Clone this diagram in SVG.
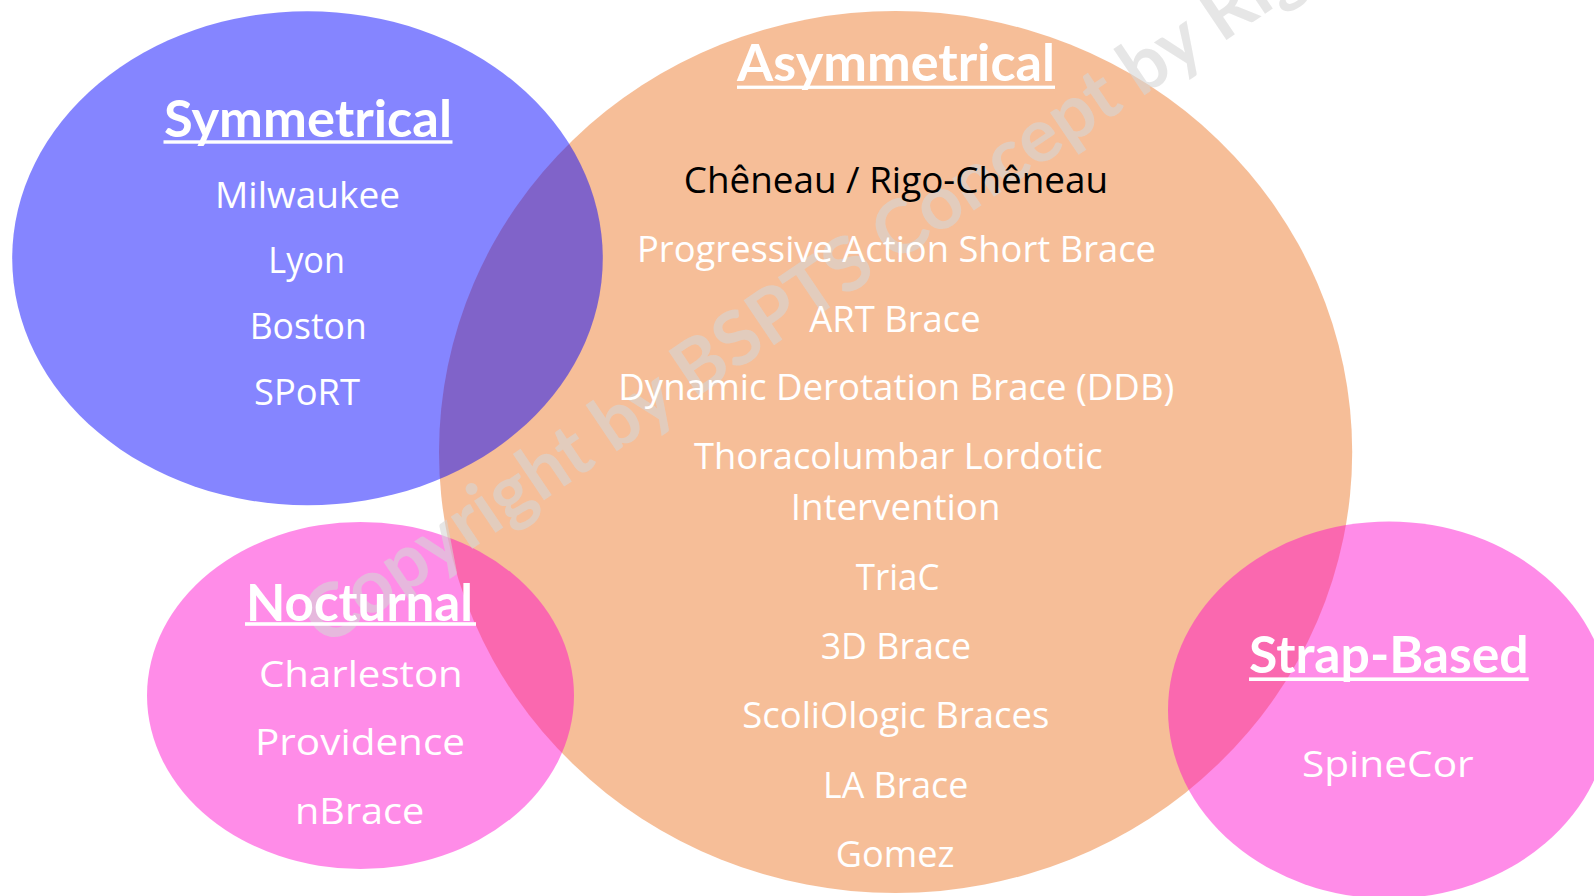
<svg xmlns="http://www.w3.org/2000/svg" width="1594" height="896" viewBox="0 0 1594 896">
<style>
.title{font-family:Lato,"Open Sans","DejaVu Sans",sans-serif;font-weight:700;font-size:52px;fill:#ffffff}
.item{font-family:"Open Sans","Noto Sans","DejaVu Sans",sans-serif;font-size:36.5px;fill:#ffffff}
.dark{fill:#000000}
.ul{fill:#ffffff}
.wm{font-family:Lato,"Open Sans","DejaVu Sans",sans-serif;font-weight:700;font-size:75px;fill:#d6d6d6;fill-opacity:0.6}
</style>
<rect width="1594" height="896" fill="#ffffff"/>
<g id="shapes">
<ellipse id="asymmetrical-area" cx="895.6" cy="452" rx="456.6" ry="441" fill="#ed7d31" fill-opacity="0.5"/>
<ellipse id="symmetrical-area" cx="307.5" cy="258.2" rx="295.3" ry="247" fill="#0000ff" fill-opacity="0.48"/>
<ellipse id="nocturnal-area" cx="360.5" cy="695.5" rx="213.5" ry="173.5" fill="#ff00cc" fill-opacity="0.45"/>
<ellipse id="strap-area" cx="1389" cy="710" rx="221" ry="188.5" fill="#ff00cc" fill-opacity="0.45"/>
</g>
<g id="watermark">
<text class="wm" transform="translate(325,648) rotate(-34)">Copyright by BSPTS Concept by Rigo</text>
</g>
<g id="symmetrical">
<text class="title" x="164" y="136.5" textLength="288" lengthAdjust="spacingAndGlyphs">Symmetrical</text>
<rect class="ul" x="163.5" y="140.3" width="289" height="3.4"/>
<text class="item" x="215" y="208.3" textLength="185" lengthAdjust="spacingAndGlyphs">Milwaukee</text>
<text class="item" x="268.3" y="272.7" textLength="76.7" lengthAdjust="spacingAndGlyphs">Lyon</text>
<text class="item" x="249.7" y="339.3" textLength="117" lengthAdjust="spacingAndGlyphs">Boston</text>
<text class="item" x="254" y="405" textLength="106" lengthAdjust="spacingAndGlyphs">SPoRT</text>
</g>
<g id="asymmetrical">
<text class="title" x="737" y="81.3" textLength="318" lengthAdjust="spacingAndGlyphs">Asymmetrical</text>
<rect class="ul" x="737" y="85.6" width="318" height="3.3"/>
<text class="item dark" x="683.7" y="192.7" textLength="424.3" lengthAdjust="spacingAndGlyphs">Chêneau / Rigo-Chêneau</text>
<text class="item" x="637" y="261.7" textLength="519" lengthAdjust="spacingAndGlyphs">Progressive Action Short Brace</text>
<text class="item" x="809.3" y="331.7" textLength="171.4" lengthAdjust="spacingAndGlyphs">ART Brace</text>
<text class="item" x="618.3" y="400" textLength="556" lengthAdjust="spacingAndGlyphs">Dynamic Derotation Brace (DDB)</text>
<text class="item" x="694" y="469.3" textLength="408.7" lengthAdjust="spacingAndGlyphs">Thoracolumbar Lordotic</text>
<text class="item" x="790.7" y="520.3" textLength="209.7" lengthAdjust="spacingAndGlyphs">Intervention</text>
<text class="item" x="855.7" y="590" textLength="83.7" lengthAdjust="spacingAndGlyphs">TriaC</text>
<text class="item" x="820.7" y="659.3" textLength="150.3" lengthAdjust="spacingAndGlyphs">3D Brace</text>
<text class="item" x="742.3" y="727.7" textLength="307" lengthAdjust="spacingAndGlyphs">ScoliOlogic Braces</text>
<text class="item" x="823" y="798.3" textLength="145.3" lengthAdjust="spacingAndGlyphs">LA Brace</text>
<text class="item" x="835.7" y="867.3" textLength="118.7" lengthAdjust="spacingAndGlyphs">Gomez</text>
</g>
<g id="nocturnal">
<text class="title" x="246" y="620.5" textLength="227" lengthAdjust="spacingAndGlyphs">Nocturnal</text>
<rect class="ul" x="245" y="622.2" width="231" height="3.6"/>
<text class="item" x="259" y="686.7" textLength="203.7" lengthAdjust="spacingAndGlyphs">Charleston</text>
<text class="item" x="255" y="755" textLength="210" lengthAdjust="spacingAndGlyphs">Providence</text>
<text class="item" x="295" y="824" textLength="129.3" lengthAdjust="spacingAndGlyphs">nBrace</text>
</g>
<g id="strap-based">
<text class="title" x="1249" y="673.3" textLength="279.7" lengthAdjust="spacingAndGlyphs">Strap-Based</text>
<rect class="ul" x="1249" y="677.4" width="279.7" height="3.6"/>
<text class="item" x="1302" y="776.7" textLength="171.7" lengthAdjust="spacingAndGlyphs">SpineCor</text>
</g>
</svg>
